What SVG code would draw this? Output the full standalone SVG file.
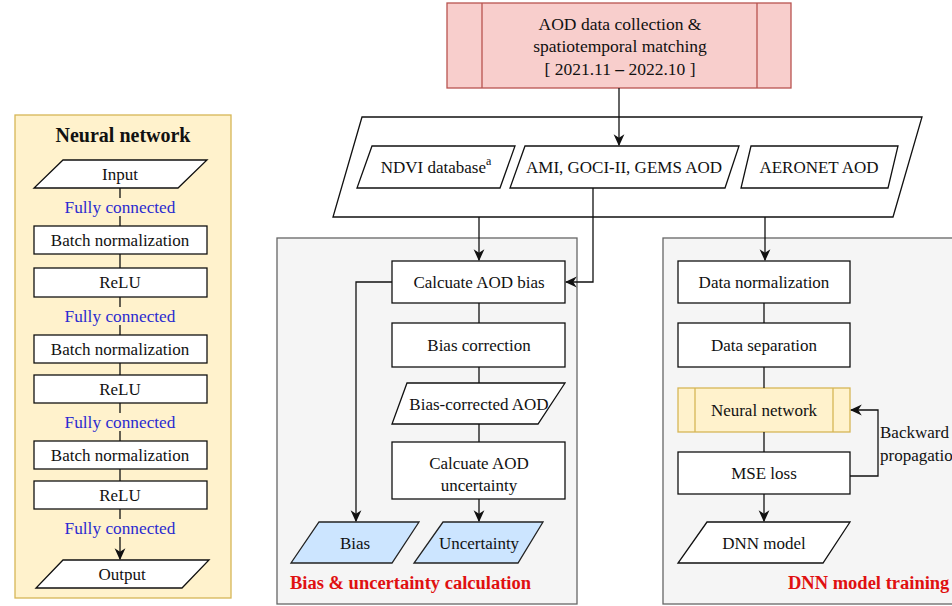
<svg xmlns="http://www.w3.org/2000/svg" width="952" height="606" viewBox="0 0 952 606">
<style>
text{font-family:"Liberation Serif","Times New Roman",serif;font-size:17px;fill:#111;text-anchor:middle;dominant-baseline:central}
.box{fill:#fff;stroke:#111;stroke-width:1.3}
.blue{fill:#cce5ff;stroke:#222;stroke-width:1.3}
.yel{fill:#fff2cc;stroke:#d6b656;stroke-width:1.3}
.gray{fill:#f5f5f5;stroke:#666;stroke-width:1.3}
.ln{fill:none;stroke:#111;stroke-width:1.3}
.fc{fill:#2b2bd0;font-size:17.3px}
.red{fill:#e01010;font-weight:bold;text-anchor:start;font-size:18.5px}
</style>
<defs>
<marker id="ah" viewBox="0 0 10 10" refX="9" refY="5" markerWidth="12" markerHeight="12" markerUnits="userSpaceOnUse" orient="auto">
<path d="M0,0.5 L10,5 L0,9.5 L3,5 Z" fill="#111"/>
</marker>
</defs>

<!-- containers -->
<g id="nn-panel">
<rect class="yel" x="15" y="115" width="216" height="483"/>
<text x="123" y="135" style="font-weight:bold;font-size:20px">Neural network</text>
</g>
<g id="bias-panel">
<rect class="gray" x="277" y="238" width="300" height="366"/>
<text class="red" x="290" y="583">Bias &amp; uncertainty calculation</text>
</g>
<g id="dnn-panel">
<rect class="gray" x="663" y="238" width="300" height="366"/>
<text class="red" x="788" y="583">DNN model training</text>
</g>

<!-- left panel nodes -->
<g id="nn-input"><polygon class="box" points="63,160 207,160 178,188 34,188"/><text x="120" y="174">Input</text></g>
<g id="fc1"><text class="fc" x="120" y="207">Fully connected</text></g>
<g id="bn1"><rect class="box" x="34" y="226" width="173" height="28"/><text x="120" y="240">Batch normalization</text></g>
<g id="relu1"><rect class="box" x="34" y="268" width="173" height="29"/><text x="120" y="282">ReLU</text></g>
<g id="fc2"><text class="fc" x="120" y="316">Fully connected</text></g>
<g id="bn2"><rect class="box" x="34" y="335" width="173" height="28"/><text x="120" y="349">Batch normalization</text></g>
<g id="relu2"><rect class="box" x="34" y="375" width="173" height="28"/><text x="120" y="389">ReLU</text></g>
<g id="fc3"><text class="fc" x="120" y="422">Fully connected</text></g>
<g id="bn3"><rect class="box" x="34" y="441" width="173" height="28"/><text x="120" y="455">Batch normalization</text></g>
<g id="relu3"><rect class="box" x="34" y="481" width="173" height="28"/><text x="120" y="495">ReLU</text></g>
<g id="fc4"><text class="fc" x="120" y="528">Fully connected</text></g>
<g id="nn-output"><polygon class="box" points="63,560 209,560 182,588 36,588"/><text x="122" y="574">Output</text></g>

<!-- top -->
<g id="aod-collection">
<rect x="447" y="3" width="344" height="85" fill="#f8cecc" stroke="#b85450" stroke-width="1.3"/>
<path d="M482,3 V88 M757,3 V88" stroke="#b85450" stroke-width="1.3"/>
<text x="620" y="24" style="font-size:17.5px">AOD data collection &amp;</text>
<text x="620" y="46" style="font-size:17.5px">spatiotemporal matching</text>
<text x="620" y="69" style="font-size:17.5px">[ 2021.11 <tspan font-weight="bold">–</tspan> 2022.10 ]</text>
</g>
<g id="datasets">
<polygon class="box" points="362,117 922,117 893,217 333,217"/>
</g>
<g id="ndvi"><polygon class="box" points="372,146 515,146 500,188 357,188"/><text x="436" y="167">NDVI database<tspan font-size="12" dy="-6">a</tspan></text></g>
<g id="ami"><polygon class="box" points="525,146 739,146 725,188 510,188"/><text x="624" y="167">AMI, GOCI-II, GEMS AOD</text></g>
<g id="aeronet"><polygon class="box" points="751,146 898,146 888,188 741,188"/><text x="819" y="167">AERONET AOD</text></g>

<!-- bias panel -->
<g id="calc-bias"><rect class="box" x="392" y="261" width="173" height="42"/><text x="479" y="282">Calcuate AOD bias</text></g>
<g id="bias-correction"><rect class="box" x="392" y="323" width="173" height="44"/><text x="479" y="345">Bias correction</text></g>
<g id="bias-corrected-aod"><polygon class="box" points="407,383 565,383 538,424 392,424"/><text x="479" y="404">Bias-corrected AOD</text></g>
<g id="calc-unc"><rect class="box" x="392" y="442" width="173" height="57"/><text x="479" y="463">Calcuate AOD</text><text x="479" y="485">uncertainty</text></g>
<g id="bias"><polygon class="blue" points="319,522 419,522 392,563 291,563"/><text x="355" y="543">Bias</text></g>
<g id="uncertainty"><polygon class="blue" points="443,522 543,522 518,563 414,563"/><text x="479" y="543">Uncertainty</text></g>

<!-- dnn panel -->
<g id="data-norm"><rect class="box" x="678" y="261" width="172" height="42"/><text x="764" y="282">Data normalization</text></g>
<g id="data-sep"><rect class="box" x="678" y="323" width="172" height="44"/><text x="764" y="345">Data separation</text></g>
<g id="neural-network"><rect class="yel" x="678" y="388" width="172" height="44"/><path d="M695,388 V432 M833,388 V432" stroke="#d6b656" stroke-width="1.3"/><text x="764" y="410">Neural network</text></g>
<g id="mse"><rect class="box" x="678" y="452" width="172" height="42"/><text x="764" y="473">MSE loss</text></g>
<g id="dnn-model"><polygon class="box" points="707,522 850,522 823,563 678,563"/><text x="764" y="543">DNN model</text></g>

<!-- connectors -->
<g id="connectors">
<path class="ln" d="M120,188 V198 M120,216 V226 M120,254 V268 M120,297 V307 M120,325 V335 M120,363 V375 M120,403 V413 M120,431 V441 M120,469 V481 M120,509 V519"/>
<path class="ln" d="M120,537 V559" marker-end="url(#ah)"/>
<path class="ln" d="M619,88 V145" marker-end="url(#ah)"/>
<path class="ln" d="M479,217 V260" marker-end="url(#ah)"/>
<path class="ln" d="M593,188 V282 H566" marker-end="url(#ah)"/>
<path class="ln" d="M392,282 H356 V521" marker-end="url(#ah)"/>
<path class="ln" d="M479,303 V323 M479,367 V383 M479,424 V442"/>
<path class="ln" d="M479,499 V521" marker-end="url(#ah)"/>
<path class="ln" d="M765,217 V260" marker-end="url(#ah)"/>
<path class="ln" d="M764,303 V323 M764,367 V388 M764,432 V452"/>
<path class="ln" d="M764,494 V521" marker-end="url(#ah)"/>
<path class="ln" d="M850,476 H878 V410 H851" marker-end="url(#ah)"/>
<text x="880" y="432" style="text-anchor:start">Backward</text>
<text x="880" y="455" style="text-anchor:start">propagation</text>
</g>
</svg>
